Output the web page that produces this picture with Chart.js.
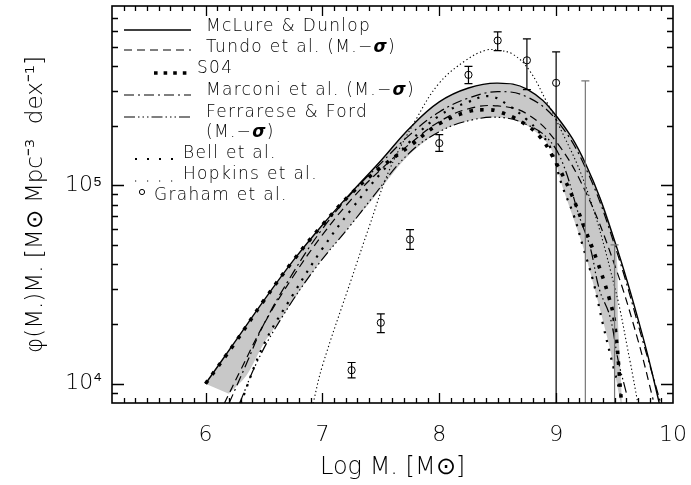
<!DOCTYPE html>
<html><head><meta charset="utf-8">
<script src="https://cdn.jsdelivr.net/npm/chart.js@4/dist/chart.umd.min.js"></script>
<style>html,body{margin:0;padding:0;background:#fff}</style>
</head><body>
<canvas id="c" width="691" height="485"></canvas>
<script>
// ---------- data ----------
const xMcLure = [6.0, 6.25, 6.5, 6.75, 7.0, 7.25, 7.5, 7.75, 8.0, 8.25, 8.5, 8.75, 9.0, 9.25, 9.5, 9.75, 9.9];
const yMcLure = [10000, 16200, 26300, 41700, 63100, 92300, 133000, 195000, 263000, 309000, 327000, 305000, 224000, 129000, 52500, 16600, 7240];

const xTundo = [6.16, 6.3, 6.5, 6.75, 7.0, 7.25, 7.5, 7.75, 8.0, 8.25, 8.5, 8.75, 9.0, 9.25, 9.5, 9.7, 9.83];
const yTundo = [7940, 11700, 20000, 34700, 56200, 85100, 120000, 162000, 209000, 243000, 251000, 229000, 166000, 93300, 39800, 16600, 8320];

const xS04 = [6.0, 6.25, 6.5, 6.75, 7.0, 7.25, 7.5, 7.75, 8.0, 8.25, 8.4, 8.5, 8.7, 8.86, 8.975, 9.12, 9.25, 9.35, 9.45, 9.5, 9.56];
const yS04 = [10000, 16000, 26300, 41700, 63100, 91200, 123000, 158000, 204000, 235000, 240000, 236000, 209000, 176000, 138000, 93300, 59600, 41700, 27500, 20400, 7940];

const xMarconi = [6.2, 6.35, 6.5, 6.75, 7.0, 7.25, 7.5, 7.75, 8.0, 8.25, 8.5, 8.75, 9.0, 9.25, 9.5, 9.75, 9.92];
const yMarconi = [7940, 12600, 20000, 36300, 60300, 91200, 129000, 180000, 234000, 275000, 296000, 279000, 214000, 123000, 50100, 15800, 7080];

const xFerrarese = [6.29, 6.45, 6.66, 6.95, 7.23, 7.43, 7.72, 8.0, 8.29, 8.55, 8.75, 8.92, 9.05, 9.2, 9.29, 9.37, 9.46, 9.53, 9.6];
const yFerrarese = [7940, 13200, 21900, 38900, 61700, 87100, 141000, 186000, 214000, 219000, 202000, 174000, 132000, 69200, 49000, 29900, 21900, 13200, 9020];

const xBell = [6.3, 6.5, 6.75, 7.0, 7.25, 7.5, 7.75, 8.0, 8.25, 8.43, 8.6, 8.75, 8.86, 8.95, 9.05, 9.15, 9.23, 9.32, 9.4, 9.5, 9.55];
const yBell = [7940, 15800, 28200, 47900, 75900, 115000, 166000, 224000, 263000, 281000, 251000, 214000, 184000, 155000, 100000, 70800, 49000, 32400, 20000, 11500, 8910];

const xHopkins = [6.92, 7.0, 7.25, 7.4, 7.575, 7.8, 8.0, 8.23, 8.4, 8.5, 8.63, 8.77, 8.92, 9.0, 9.25, 9.5, 9.63, 9.7];
const yHopkins = [7940, 12300, 33900, 61700, 120000, 214000, 327000, 427000, 479000, 479000, 457000, 380000, 263000, 214000, 100000, 30900, 13200, 7940];

// shaded band: upper edge left->right, then lower edge right->left
const xBand = [6.0, 6.25, 6.5, 6.75, 7.0, 7.25, 7.5, 7.75, 8.0, 8.25, 8.5, 8.75, 9.0, 9.25, 9.5, 9.53, 9.56,
               9.5, 9.46, 9.36, 9.23, 9.05, 8.95, 8.75, 8.55, 8.29, 8.0, 7.72, 7.43, 7.23, 6.95, 6.66, 6.5, 6.35, 6.2];
const yBand = [10000, 16200, 26300, 41700, 63100, 92300, 133000, 195000, 263000, 309000, 327000, 305000, 224000, 129000, 52500, 20000, 7940,
               11500, 15100, 25700, 49000, 100000, 155000, 200000, 219000, 214000, 186000, 138000, 85100, 61700, 38900, 21900, 16000, 11000, 8910];

// Graham et al. points with error bars (null = below the plotted range)
const xGraham  = [7.25, 7.5, 7.75, 8.0, 8.25, 8.5, 8.75, 9.0, 9.25, 9.5];
const yGraham  = [11700, 20300, 53300, 163000, 360000, 536000, 426000, 328000, null, null];
const hiGraham = [12800, 22500, 59800, 180000, 397000, 592000, 546000, 470000, 336000, 50100];
const loGraham = [10700, 18100, 47500, 148000, 325000, 477000, 303000, null, null, null];

// ticks
const xMajor = [6, 7, 8, 9, 10];
const xTickLabels = ['6', '7', '8', '9', '10'];
const yMajor = [10000, 100000];
const yTickLabels = ['10\u2074', '10\u2075'];
const yMinor = [9000, 20000, 30000, 40000, 50000, 60000, 70000, 80000, 90000, 200000, 300000, 400000, 500000, 600000, 700000];

const legendNames = ['McLure & Dunlop', 'Tundo et al. (M.\u2212', 'S04', 'Marconi et al. (M.\u2212', 'Ferrarese & Ford', 'Bell et al.', 'Hopkins et al.', 'Graham et al.'];

// ---------- helpers ----------
const FONT = "'DejaVu Sans', sans-serif";
const pts = (xs, ys) => xs.map((v, i) => ({x: v, y: ys[i]}));

const styles = {
  solid:   {w: 1.4, dash: []},
  dashed:  {w: 1.2, dash: [8, 5]},
  s04:     {w: 3.6, dash: [3.6, 7.4]},
  dashdot: {w: 1.2, dash: [10, 4, 2, 4]},
  dd3:     {w: 1.2, dash: [11, 3, 1.5, 3, 1.5, 3, 1.5, 3]},
  bell:    {w: 2.2, dash: [2.2, 7]},
  hopkins: {w: 1.1, dash: [1.3, 2.6]}
};
function lineDS(label, data, st) {
  return {label, data, borderColor: '#000', borderWidth: st.w, borderDash: st.dash, order: 1,
          borderCapStyle: 'butt', pointRadius: 0, fill: false, tension: 0.4, showLine: true};
}

const datasets = [
  {label: 'band', data: pts(xBand, yBand), borderWidth: 0, borderColor: 'rgba(0,0,0,0)', order: 10,
   backgroundColor: '#c8c8c8', fill: 'shape', pointRadius: 0, tension: 0.3, showLine: true},
  lineDS('Hopkins et al.', pts(xHopkins, yHopkins), styles.hopkins),
  lineDS('Bell et al.', pts(xBell, yBell), styles.bell),
  lineDS('Ferrarese & Ford', pts(xFerrarese, yFerrarese), styles.dd3),
  lineDS('Marconi et al.', pts(xMarconi, yMarconi), styles.dashdot),
  lineDS('S04', pts(xS04, yS04), styles.s04),
  lineDS('Tundo et al.', pts(xTundo, yTundo), styles.dashed),
  lineDS('McLure & Dunlop', pts(xMcLure, yMcLure), styles.solid),
  {label: 'Graham et al.', data: xGraham.map((v, i) => ({x: v, y: yGraham[i]})).filter(p => p.y !== null),
   showLine: false, pointRadius: 3.6, pointStyle: 'circle', borderColor: '#000', borderWidth: 1, order: 0,
   backgroundColor: 'rgba(0,0,0,0)'}
];

function drawRich(ctx, parts, x, y, size) {
  let cx = x;
  parts.forEach(p => {
    ctx.font = (p.bi ? 'italic bold ' : '300 ') + size + 'px ' + FONT;
    ctx.fillText(p.t, cx, y);
    cx += ctx.measureText(p.t).width;
  });
}

const framePlugin = {
  id: 'frame',
  afterDatasetsDraw(chart) {
    const {ctx, chartArea: a, scales: {x, y}} = chart;
    ctx.save();
    // error bars
    ctx.save();
    ctx.beginPath(); ctx.rect(a.left, a.top, a.right - a.left, a.bottom - a.top); ctx.clip();
    xGraham.forEach((gx, i) => {
      const px = x.getPixelForValue(gx);
      const top = y.getPixelForValue(hiGraham[i]);
      const bot = loGraham[i] === null ? a.bottom + 2 : y.getPixelForValue(loGraham[i]);
      ctx.strokeStyle = yGraham[i] === null ? '#777' : '#000';
      ctx.lineWidth = 1.2;
      ctx.setLineDash([]);
      ctx.beginPath();
      ctx.moveTo(px, top); ctx.lineTo(px, bot);
      ctx.moveTo(px - 4, top); ctx.lineTo(px + 4, top);
      if (loGraham[i] !== null) { ctx.moveTo(px - 4, bot); ctx.lineTo(px + 4, bot); }
      ctx.stroke();
    });
    ctx.restore();

    // frame and inward ticks
    ctx.strokeStyle = '#000';
    ctx.setLineDash([]);
    ctx.lineWidth = 1.6;
    ctx.strokeRect(a.left, a.top, a.right - a.left, a.bottom - a.top);
    ctx.lineWidth = 1.3;
    ctx.beginPath();
    for (let k = 53; k <= 99; k++) {
      const v = k / 10;
      const px = Math.round(x.getPixelForValue(v)) + 0.5;
      const len = (k % 10 === 0) ? 10 : 5;
      ctx.moveTo(px, a.bottom); ctx.lineTo(px, a.bottom - len);
      ctx.moveTo(px, a.top); ctx.lineTo(px, a.top + len);
    }
    yMajor.concat(yMinor).forEach(v => {
      const py = Math.round(y.getPixelForValue(v)) + 0.5;
      const len = yMajor.includes(v) ? 12 : 6;
      ctx.moveTo(a.left, py); ctx.lineTo(a.left + len, py);
      ctx.moveTo(a.right, py); ctx.lineTo(a.right - len, py);
    });
    ctx.stroke();

    // legend
    const L = a.left, T = a.top;
    ctx.fillStyle = '#000';
    ctx.textBaseline = 'middle';
    ctx.textAlign = 'left';
    const FS = 17;
    if ('letterSpacing' in ctx) ctx.letterSpacing = '1.3px';
    const sample = (st, x1, x2, yy) => {
      ctx.lineWidth = st.w; ctx.setLineDash(st.dash); ctx.lineCap = 'butt';
      ctx.beginPath(); ctx.moveTo(L + x1, T + yy); ctx.lineTo(L + x2, T + yy); ctx.stroke();
    };
    sample(styles.solid, 12, 79, 24);
    drawRich(ctx, [{t: legendNames[0]}], L + 94, T + 21, FS);
    sample(styles.dashed, 12, 79, 44);
    drawRich(ctx, [{t: legendNames[1]}, {t: '\u03c3', bi: true}, {t: ')'}], L + 94, T + 42, FS);
    sample({w: 3.6, dash: [3.6, 6]}, 42, 79, 67);
    drawRich(ctx, [{t: legendNames[2]}], L + 85, T + 63, FS);
    sample(styles.dashdot, 12, 79, 89);
    drawRich(ctx, [{t: legendNames[3]}, {t: '\u03c3', bi: true}, {t: ')'}], L + 94, T + 85, FS);
    sample(styles.dd3, 12, 79, 111);
    drawRich(ctx, [{t: legendNames[4]}], L + 94, T + 107, FS);
    drawRich(ctx, [{t: '(M.\u2212'}, {t: '\u03c3', bi: true}, {t: ')'}], L + 94, T + 127, FS);
    sample({w: 2, dash: [2, 10]}, 23, 67, 153);
    drawRich(ctx, [{t: legendNames[5]}], L + 71, T + 148, FS);
    sample({w: 1.2, dash: [1.2, 10.8]}, 23, 67, 175);
    drawRich(ctx, [{t: legendNames[6]}], L + 71, T + 169, FS);
    ctx.setLineDash([]); ctx.lineWidth = 1;
    ctx.beginPath(); ctx.arc(L + 30, T + 186, 2.6, 0, Math.PI * 2); ctx.stroke();
    drawRich(ctx, [{t: legendNames[7]}], L + 42, T + 190, FS);
    ctx.restore();
  }
};

new Chart(document.getElementById('c').getContext('2d'), {
  type: 'line',
  data: {datasets},
  options: {
    responsive: false,
    animation: false,
    devicePixelRatio: 1,
    layout: {padding: {left: 0, right: 18, top: 6, bottom: 0}},
    plugins: {legend: {display: false}, tooltip: {enabled: false}},
    scales: {
      x: {
        type: 'linear', min: 5.2, max: 10,
        grid: {display: false, drawTicks: false, tickLength: 0},
        border: {display: false},
        afterBuildTicks: s => { s.ticks = xMajor.map(v => ({value: v})); },
        ticks: {font: {family: FONT, size: 22, weight: 300}, color: '#000', padding: 19, maxRotation: 0, autoSkip: false,
                callback: (v, i) => xTickLabels[i]},
        title: {display: true, text: 'Log M. [M\u2299]', font: {family: FONT, size: 24, weight: 300}, color: '#000',
                padding: {top: 0, bottom: 3}},
        afterFit: s => { s.height = 82; s.paddingLeft = 0; s.paddingRight = 0; }
      },
      y: {
        type: 'logarithmic', min: 8000, max: 800000,
        grid: {display: false, drawTicks: false, tickLength: 0},
        border: {display: false},
        afterBuildTicks: s => { s.ticks = yMajor.map(v => ({value: v})); },
        ticks: {font: {family: FONT, size: 22, weight: 300}, color: '#000', padding: 10, autoSkip: false,
                callback: (v, i) => yTickLabels[i]},
        title: {display: true, text: '\u03c6(M.)M. [M\u2299 Mpc\u207b\u00b3  dex\u207b\u00b9]',
                font: {family: FONT, size: 23, weight: 300}, color: '#000', padding: {top: 22, bottom: 0}},
        afterFit: s => { s.width = 112; s.paddingTop = 0; s.paddingBottom = 0; }
      }
    }
  },
  plugins: [framePlugin]
});
</script>
</body></html>
